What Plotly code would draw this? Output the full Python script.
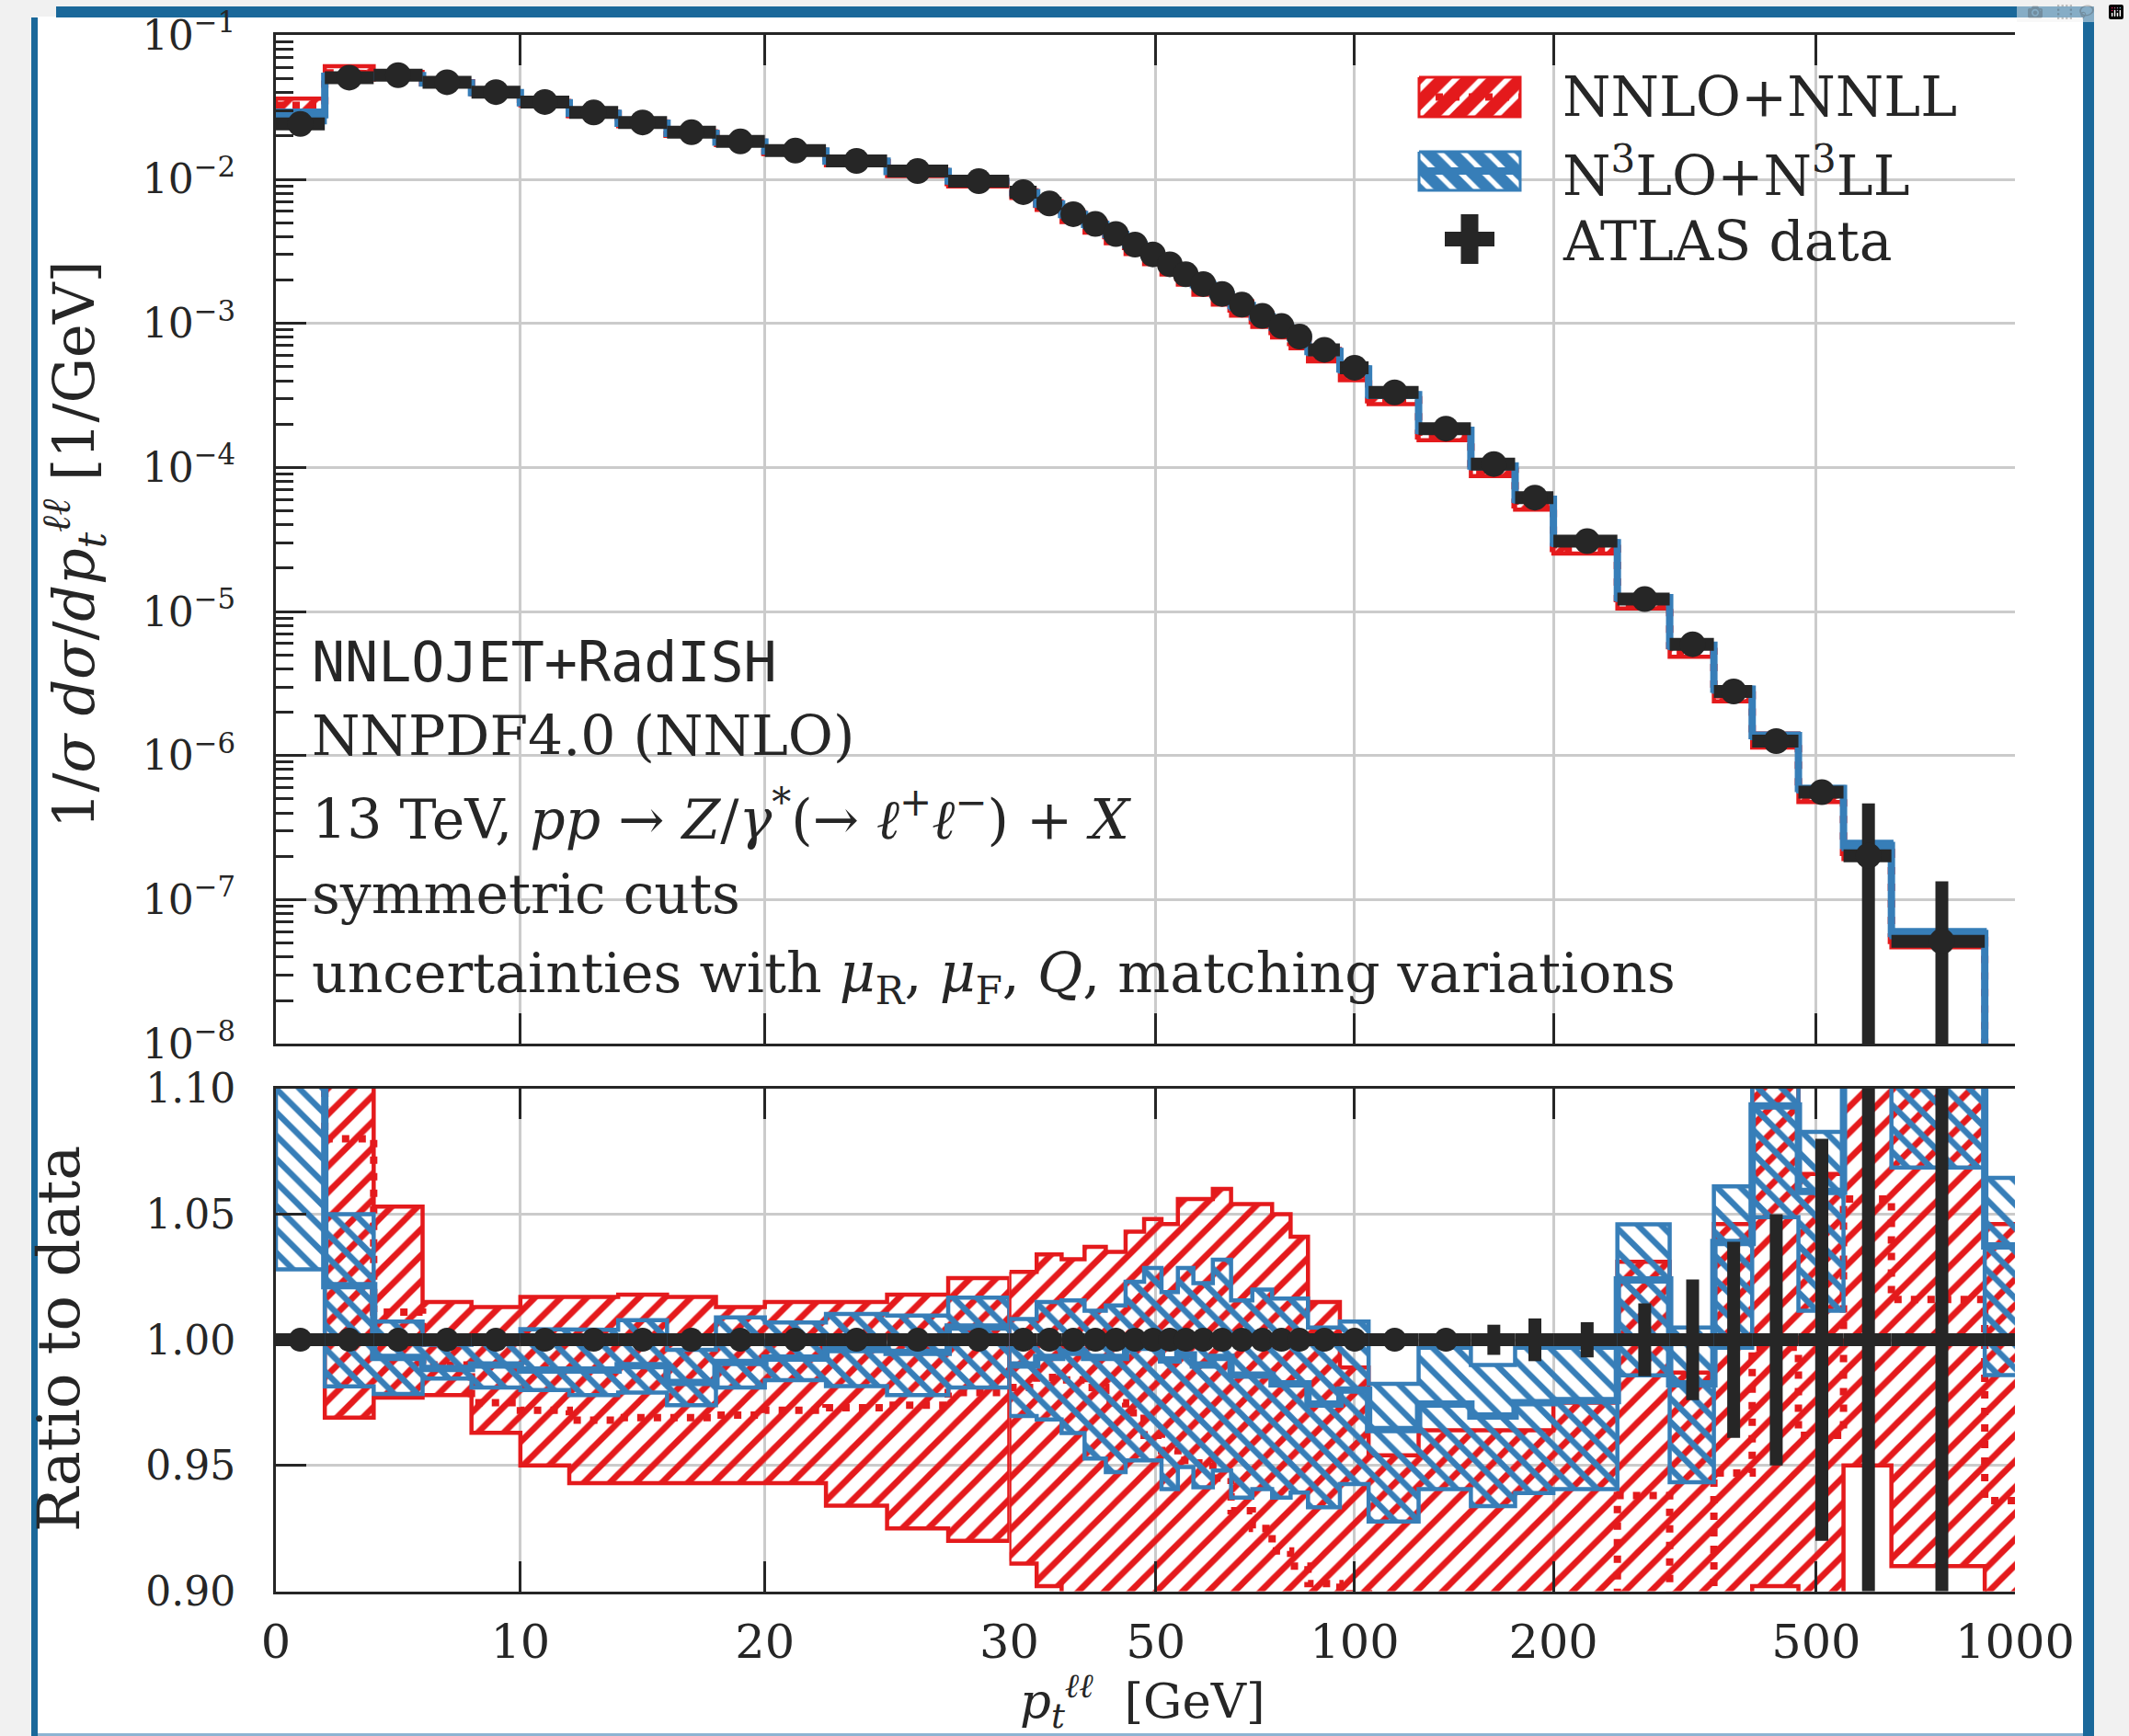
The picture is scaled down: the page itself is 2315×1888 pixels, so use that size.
import numpy as np
import plotly.graph_objects as go

# ---------------- data ----------------
bin_edges = [0, 2, 4, 6, 8, 10, 12, 14, 16, 18, 20, 22.5, 25, 27.5, 30, 33, 36, 39, 42, 45, 48,
             51, 54, 57, 61, 65, 70, 75, 80, 85, 95, 105, 125, 150, 175, 200, 250, 300, 350,
             400, 470, 550, 650, 900, 2500]

atlas_values = [0.0242, 0.0508, 0.0528, 0.0472, 0.0403, 0.0344, 0.0291, 0.0248, 0.0212, 0.0183,
                0.0158, 0.0134, 0.0114, 0.0097,
                0.00815, 0.00679, 0.00573, 0.00490, 0.00417, 0.00352, 0.00301, 0.00257, 0.00219, 0.001875,
                0.00160, 0.00135, 0.001127, 0.000958, 0.000809, 0.000656, 0.000492, 0.000332, 0.000186, 0.0001057,
                6.18e-5, 3.08e-5, 1.22e-5, 5.93e-6, 2.79e-6, 1.26e-6, 5.58e-7, 2.02e-7, 5.14e-8, 4.0e-9]

atlas_rel_err = [0.003, 0.003, 0.003, 0.003, 0.003, 0.003, 0.003, 0.003, 0.003, 0.003,
                 0.003, 0.003, 0.003, 0.003,
                 0.003, 0.003, 0.003, 0.003, 0.003, 0.003, 0.003, 0.003, 0.003, 0.003,
                 0.003, 0.003, 0.003, 0.003, 0.003, 0.003, 0.003, 0.003, 0.003, 0.006,
                 0.0085, 0.007, 0.0145, 0.024, 0.039, 0.050, 0.080, 1.31, 1.61, 2.0]

# ratios to data
nnlo_nnll_lo = [1.24, 0.969, 0.977, 0.978, 0.963, 0.950, 0.943, 0.943, 0.943, 0.943,
                0.943, 0.934, 0.925, 0.920,
                0.911, 0.902, 0.880, 0.870, 0.865, 0.860, 0.855, 0.850, 0.850, 0.845,
                0.845, 0.840, 0.840, 0.835, 0.830, 0.830, 0.820, 0.830, 0.830, 0.825,
                0.825, 0.820, 0.860, 0.820, 0.855, 0.902, 0.855, 0.950, 0.910, 0.850]
nnlo_nnll_hi = [1.50, 1.200, 1.053, 1.015, 1.013, 1.017, 1.017, 1.018, 1.017, 1.013,
                1.015, 1.015, 1.018, 1.0245,
                1.027, 1.034, 1.032, 1.037, 1.035, 1.043, 1.048, 1.046, 1.056, 1.056,
                1.060, 1.054, 1.054, 1.050, 1.041, 1.015, 0.989, 0.954, 0.964, 0.964,
                0.964, 0.975, 1.031, 0.987, 1.046, 1.130, 1.066, 1.200, 1.150, 1.046]
nnlo_nnll_central = [1.35, 1.080, 1.011, 0.990, 0.975, 0.972, 0.968, 0.969, 0.969, 0.970,
                     0.972, 0.973, 0.974, 0.979,
                     0.981, 0.985, 0.984, 0.981, 0.975, 0.971, 0.962, 0.956, 0.952, 0.951,
                     0.945, 0.932, 0.925, 0.916, 0.910, 0.903, 0.899, 0.890, 0.890, 0.890,
                     0.890, 0.890, 0.938, 0.890, 0.947, 0.997, 0.962, 1.056, 1.016, 0.936]

n3lo_n3ll_lo = [1.028, 0.9815, 0.9785, 0.9846, 0.981, 0.980, 0.978, 0.979, 0.974, 0.981,
                0.9839, 0.9816, 0.978, 0.981,
                0.9697, 0.9683, 0.9629, 0.9528, 0.9474, 0.952, 0.952, 0.9406, 0.9494, 0.9413,
                0.948, 0.9372, 0.9406, 0.9372, 0.9392, 0.9334, 0.9426, 0.9277, 0.9406, 0.9338,
                0.939, 0.9406, 0.9859, 0.9433, 0.9968, 1.0488, 1.0116, 1.110, 1.0685, 0.986]
n3lo_n3ll_hi = [1.24, 1.050, 1.0073, 0.998, 1.000, 1.0042, 1.004, 1.0078, 0.996, 1.0089,
                1.0069, 1.0103, 1.0096, 1.0168,
                1.0083, 1.015, 1.0157, 1.0116, 1.0137, 1.0231, 1.0286, 1.019, 1.0286, 1.0225,
                1.0319, 1.0157, 1.020, 1.0164, 1.0164, 1.0049, 1.0073, 0.9825, 0.9968, 0.990,
                0.9968, 0.9968, 1.0459, 1.0049, 1.061, 1.130, 1.0827, 1.250, 1.200, 1.0644]
n3lo_n3ll_central = [1.16, 1.0215, 0.993, 0.9886, 0.990, 0.988, 0.988, 0.9897, 0.983, 0.991,
                     0.9927, 0.9961, 0.995, 1.0051,
                     0.990, 0.993, 0.995, 0.993, 0.993, 0.997, 0.997, 0.992, 0.994, 0.990,
                     0.993, 0.986, 0.986, 0.9825, 0.9825, 0.9744, 0.980, 0.9643, 0.9744, 0.9697,
                     0.975, 0.9758, 1.0238, 0.9825, 1.0387, 1.093, 1.059, 1.180, 1.135, 1.0373]

lin_tick_vals = [0, 10, 20, 30]
lin_tick_text = ["0", "10", "20", "30"]
log_tick_vals = [50, 100, 200, 500, 1000]
log_tick_text = ["50", "100", "200", "500", "1000"]
ratio_tick_vals = [0.90, 0.95, 1.00, 1.05, 1.10]
ratio_tick_text = ["0.90", "0.95", "1.00", "1.05", "1.10"]
decade_exponents = [-8, -7, -6, -5, -4, -3, -2, -1]

label_nnlo = "NNLO+NNLL"
label_n3lo = "N<sup>3</sup>LO+N<sup>3</sup>LL"
label_data = "ATLAS data"

# ---------------- styles ----------------
RED = "#e41a1c"
BLUE = "#377eb8"
DARK = "#262626"
GRID = "#cbcbcb"
FRAME_BLUE = "#1a689a"
SERIF = "DejaVu Serif"
MONO = "DejaVu Sans Mono"

W, H = 2315, 1888
PX_L, PX_S, PX_R = 300, 1097.5, 2191
TOP_T, TOP_B = 38.3, 1135.2
RAT_T, RAT_B = 1183.7, 1730.5


def fx(px):
    return px / W


def fy(py):
    return 1 - py / H


edges = np.array(bin_edges, dtype=float)
vals = np.array(atlas_values)
rel = np.array(atlas_rel_err)
NB = len(vals)
centers = 0.5 * (edges[:-1] + edges[1:])
nsplit = int(np.sum(edges[1:] <= 30))  # bins drawn on the linear part

parts = [(slice(0, nsplit), "lin"), (slice(nsplit, NB), "log")]
top_axes = {"lin": ("x", "y"), "log": ("x2", "y")}
rat_axes = {"lin": ("x3", "y2"), "log": ("x4", "y2")}


def band_polygon(e, lo, hi):
    xs, ys = [], []
    for i in range(len(lo)):
        xs += [e[i], e[i + 1]]
        ys += [hi[i], hi[i]]
    for i in reversed(range(len(lo))):
        xs += [e[i + 1], e[i]]
        ys += [lo[i], lo[i]]
    xs.append(xs[0])
    ys.append(ys[0])
    return xs, ys


def step_line(e, v):
    xs, ys = [], []
    for i in range(len(v)):
        xs += [e[i], e[i + 1]]
        ys += [v[i], v[i]]
    return xs, ys


fig = go.Figure()


def add_panel(axes_map, scale):
    for sl, key in parts:
        xa, ya = axes_map[key]
        e = edges[sl.start:sl.stop + 1]
        s = scale[sl]
        # red band
        bx, by = band_polygon(e, np.array(nnlo_nnll_lo)[sl] * s, np.array(nnlo_nnll_hi)[sl] * s)
        fig.add_trace(go.Scatter(x=bx, y=by, xaxis=xa, yaxis=ya, mode="lines", fill="toself",
                                 fillcolor="rgba(0,0,0,0)",
                                 fillpattern=dict(shape="/", fgcolor=RED, bgcolor="rgba(0,0,0,0)",
                                                  size=20, solidity=0.34),
                                 line=dict(color=RED, width=4.5), hoverinfo="skip", showlegend=False))
        lx, ly = step_line(e, np.array(nnlo_nnll_central)[sl] * s)
        fig.add_trace(go.Scatter(x=lx, y=ly, xaxis=xa, yaxis=ya, mode="lines",
                                 line=dict(color=RED, width=8, dash="8px,10px"),
                                 hoverinfo="skip", showlegend=False))
        # blue band
        bx, by = band_polygon(e, np.array(n3lo_n3ll_lo)[sl] * s, np.array(n3lo_n3ll_hi)[sl] * s)
        fig.add_trace(go.Scatter(x=bx, y=by, xaxis=xa, yaxis=ya, mode="lines", fill="toself",
                                 fillcolor="rgba(0,0,0,0)",
                                 fillpattern=dict(shape="\\", fgcolor=BLUE, bgcolor="rgba(0,0,0,0)",
                                                  size=18, solidity=0.36),
                                 line=dict(color=BLUE, width=4.5), hoverinfo="skip", showlegend=False))
        lx, ly = step_line(e, np.array(n3lo_n3ll_central)[sl] * s)
        fig.add_trace(go.Scatter(x=lx, y=ly, xaxis=xa, yaxis=ya, mode="lines",
                                 line=dict(color=BLUE, width=8),
                                 hoverinfo="skip", showlegend=False))


add_panel(top_axes, vals)
add_panel(rat_axes, np.ones(NB))


def data_trace(x, y, xm, xp, ym, yp, xa, ya, msize):
    return go.Scatter(
        x=x, y=y, xaxis=xa, yaxis=ya, mode="markers",
        marker=dict(color=DARK, size=msize, opacity=1 if msize > 0 else 0, line=dict(width=0)),
        error_x=dict(type="data", symmetric=False, array=xp, arrayminus=xm,
                     thickness=14, width=0, color=DARK),
        error_y=dict(type="data", symmetric=False, array=yp, arrayminus=ym,
                     thickness=14, width=0, color=DARK),
        hoverinfo="skip", showlegend=False)


# data points
for sl, key in parts:
    c = centers[sl]
    lo_e = edges[sl.start:sl.stop]
    hi_e = edges[sl.start + 1:sl.stop + 1]
    v = vals[sl]
    r = rel[sl]
    xa, ya = top_axes[key]
    fig.add_trace(data_trace(c, v, c - lo_e, hi_e - c, v * np.minimum(r, 0.999), v * r, xa, ya, 28))
    xa, ya = rat_axes[key]
    for mask, ms in [(r < 0.005, 26), (r >= 0.005, 0)]:
        if mask.any():
            fig.add_trace(data_trace(c[mask], np.ones(mask.sum()), (c - lo_e)[mask], (hi_e - c)[mask],
                                     np.minimum(r, 0.999)[mask], r[mask], xa, ya, ms))

# ---------------- legend (drawn on a hidden pixel-space axis) ----------------
LEG_RED_BOX = (1543, 1653, 84, 127)
LEG_BLUE_BOX = (1543, 1653, 165, 207)
LEG_DATA = (1598, 260)
LEG_TEXT_X = 1697
LEG_TEXT_Y = [105, 187, 262]

x0, x1, y0, y1 = LEG_RED_BOX
fig.add_trace(go.Scatter(x=[x0, x1, x1, x0, x0], y=[y0, y0, y1, y1, y0], xaxis="x5", yaxis="y5",
                         mode="lines", fill="toself", fillcolor=RED,
                         fillpattern=dict(shape="/", fgcolor="white", bgcolor=RED, size=20, solidity=0.3),
                         line=dict(color=RED, width=3), hoverinfo="skip", showlegend=False))
fig.add_trace(go.Scatter(x=[x0, x1], y=[(y0 + y1) / 2] * 2, xaxis="x5", yaxis="y5", mode="lines",
                         line=dict(color=RED, width=8, dash="8px,10px"), hoverinfo="skip", showlegend=False))
x0, x1, y0, y1 = LEG_BLUE_BOX
fig.add_trace(go.Scatter(x=[x0, x1, x1, x0, x0], y=[y0, y0, y1, y1, y0], xaxis="x5", yaxis="y5",
                         mode="lines", fill="toself", fillcolor=BLUE,
                         fillpattern=dict(shape="\\", fgcolor="white", bgcolor=BLUE, size=18, solidity=0.3),
                         line=dict(color=BLUE, width=3), hoverinfo="skip", showlegend=False))
fig.add_trace(go.Scatter(x=[x0, x1], y=[(y0 + y1) / 2] * 2, xaxis="x5", yaxis="y5", mode="lines",
                         line=dict(color=BLUE, width=8), hoverinfo="skip", showlegend=False))
fig.add_trace(go.Scatter(x=[LEG_DATA[0]], y=[LEG_DATA[1]], xaxis="x5", yaxis="y5", mode="markers",
                         marker=dict(color=DARK, size=24),
                         error_x=dict(type="constant", value=27, thickness=16, width=0, color=DARK),
                         error_y=dict(type="constant", value=27, thickness=19, width=0, color=DARK),
                         hoverinfo="skip", showlegend=False))

annotations = []
for txt, yy in zip([label_nnlo, label_n3lo, label_data], LEG_TEXT_Y):
    annotations.append(dict(x=LEG_TEXT_X, y=yy, xref="x5", yref="y5", text=txt, showarrow=False,
                            xanchor="left", yanchor="middle", font=dict(family=SERIF, size=60, color=DARK)))

info_lines = [
    ("NNLOJET+RadISH", MONO, 60, 720),
    ("NNPDF4.0 (NNLO)", SERIF, 60, 800),
    ("13 TeV, <i>pp</i> → <i>Z</i>/<i>γ</i><sup>*</sup>(→ <i>ℓ</i><sup>+</sup><i>ℓ</i><sup>−</sup>) + <i>X</i>", SERIF, 60, 887),
    ("symmetric cuts", SERIF, 60, 972),
    ("uncertainties with <i>μ</i><sub>R</sub>, <i>μ</i><sub>F</sub>, <i>Q</i>, matching variations", SERIF, 60, 1062),
]
for txt, fam, sz, yy in info_lines:
    annotations.append(dict(x=337, y=yy, xref="x5", yref="y5", text=txt, showarrow=False,
                            xanchor="left", yanchor="middle", font=dict(family=fam, size=sz, color=DARK)))

annotations.append(dict(x=80, y=592, xref="x5", yref="y5", textangle=-90, showarrow=False,
                        text="1/<i>σ</i> <i>dσ</i>/<i>dp</i><sub><i>t</i></sub><sup><i>ℓℓ</i></sup> [1/GeV]",
                        xanchor="center", yanchor="middle", font=dict(family=SERIF, size=62, color=DARK)))
annotations.append(dict(x=64, y=1456, xref="x5", yref="y5", textangle=-90, showarrow=False,
                        text="Ratio to data", xanchor="center", yanchor="middle",
                        font=dict(family=SERIF, size=64, color=DARK)))
annotations.append(dict(x=1242, y=1850, xref="x5", yref="y5", showarrow=False,
                        text="<i>p</i><sub><i>t</i></sub><sup><i>ℓℓ</i></sup>  [GeV]",
                        xanchor="center", yanchor="middle", font=dict(family=SERIF, size=53, color=DARK)))

# ---------------- axes ----------------
common = dict(showline=True, linecolor=DARK, linewidth=3, ticks="inside", ticklen=33, tickwidth=3,
              tickcolor=DARK, gridcolor=GRID, gridwidth=2.5, zeroline=False,
              fixedrange=True, automargin=False)
xtickfont = dict(family=SERIF, size=51, color=DARK)
ytickfont = dict(family=SERIF, size=44, color=DARK)
dom_lin = [fx(PX_L), fx(PX_S)]
dom_log = [fx(PX_S), fx(PX_R)]
dom_top = [fy(TOP_B), fy(TOP_T)]
dom_rat = [fy(RAT_B), fy(RAT_T)]
log_range = [np.log10(30), np.log10(1000)]

decades = [10.0 ** k for k in decade_exponents]
decade_text = ["10<sup>−%d</sup>" % (-k) for k in decade_exponents]
minor_vals = [m * 10.0 ** k for k in decade_exponents[:-1] for m in range(2, 10)]
minor = dict(ticks="inside", ticklen=19, tickwidth=3, tickcolor=DARK, tickvals=minor_vals, showgrid=False)

layout_axes = dict(
    xaxis=dict(domain=dom_lin, range=[0, 30], anchor="y", mirror="ticks", tickmode="array",
               tickvals=lin_tick_vals, showticklabels=False, showgrid=True, **common),
    xaxis2=dict(domain=dom_log, type="log", range=log_range, anchor="y", mirror="ticks", tickmode="array",
                tickvals=log_tick_vals, showticklabels=False, showgrid=True, **common),
    xaxis3=dict(domain=dom_lin, range=[0, 30], anchor="y2", mirror="ticks", tickmode="array",
                tickvals=lin_tick_vals, ticktext=lin_tick_text, showgrid=True, ticklabelstandoff=8,
                tickfont=xtickfont, **common),
    xaxis4=dict(domain=dom_log, type="log", range=log_range, anchor="y2", mirror="ticks", tickmode="array",
                tickvals=log_tick_vals, ticktext=log_tick_text, showgrid=True, ticklabelstandoff=8,
                tickfont=xtickfont, **common),
    yaxis=dict(domain=dom_top, type="log", range=[-8, -1], anchor="x", tickmode="array",
               tickvals=decades, ticktext=decade_text, showgrid=True, minor=minor, ticklabelstandoff=32,
               tickfont=ytickfont, **common),
    yaxis3=dict(domain=dom_top, type="log", range=[-8, -1], anchor="x2", overlaying="y", side="right",
                tickmode="array", tickvals=decades, showticklabels=False, showgrid=False, minor=minor, **common),
    yaxis6=dict(domain=dom_top, type="log", range=[-8, -1], anchor="x2", overlaying="y", side="left",
                showticklabels=False, showgrid=False, showline=True, linecolor=DARK, linewidth=2.5,
                ticks="", zeroline=False, fixedrange=True, automargin=False),
    yaxis2=dict(domain=dom_rat, range=[0.9, 1.1], anchor="x3", tickmode="array", tickvals=ratio_tick_vals,
                ticktext=ratio_tick_text, showgrid=True, ticklabelstandoff=32, tickfont=ytickfont, **common),
    yaxis4=dict(domain=dom_rat, range=[0.9, 1.1], anchor="x4", overlaying="y2", side="right",
                tickmode="array", tickvals=ratio_tick_vals, showticklabels=False, showgrid=False, **common),
    yaxis7=dict(domain=dom_rat, range=[0.9, 1.1], anchor="x4", overlaying="y2", side="left",
                showticklabels=False, showgrid=False, showline=True, linecolor=DARK, linewidth=2.5,
                ticks="", zeroline=False, fixedrange=True, automargin=False),
    xaxis5=dict(domain=[0, 1], range=[0, W], anchor="y5", visible=False, fixedrange=True, automargin=False),
    yaxis5=dict(domain=[0, 1], range=[H, 0], anchor="x5", visible=False, fixedrange=True, automargin=False),
)

# ---------------- page decoration ----------------
shapes = [
    dict(type="rect", xref="paper", yref="paper", x0=fx(40), x1=fx(2266), y0=fy(H), y1=fy(18),
         fillcolor="white", line=dict(width=0), layer="below"),
    dict(type="rect", xref="paper", yref="paper", x0=fx(61), x1=fx(2277), y0=fy(19), y1=fy(7),
         fillcolor=FRAME_BLUE, line=dict(width=0), layer="below"),
    dict(type="rect", xref="paper", yref="paper", x0=fx(2265), x1=fx(2277), y0=fy(H), y1=fy(7),
         fillcolor=FRAME_BLUE, line=dict(width=0), layer="below"),
    dict(type="rect", xref="paper", yref="paper", x0=fx(34), x1=fx(41), y0=fy(H), y1=fy(19),
         fillcolor=FRAME_BLUE, line=dict(width=0), layer="below"),
    dict(type="rect", xref="paper", yref="paper", x0=fx(41), x1=fx(2265), y0=fy(H), y1=fy(H - 3),
         fillcolor="#8db4d2", line=dict(width=0), layer="below"),
]

fig.update_layout(
    template="none",
    width=W, height=H,
    margin=dict(l=0, r=0, t=0, b=0, autoexpand=False),
    paper_bgcolor="#f1f1f1",
    plot_bgcolor="rgba(0,0,0,0)",
    showlegend=False,
    font=dict(family=SERIF, color=DARK),
    annotations=annotations,
    shapes=shapes,
    **layout_axes,
)

fig.write_html("out.html", post_script="document.body.style.margin='0';")
